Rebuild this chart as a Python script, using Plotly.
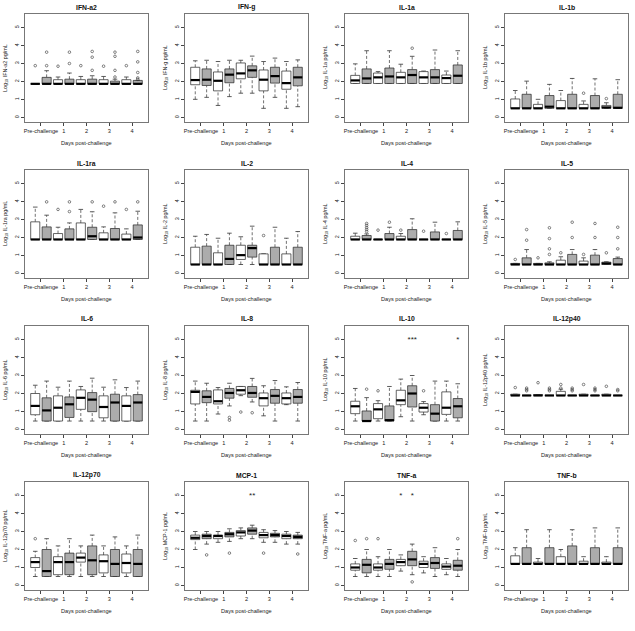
import plotly.graph_objects as go

# ---------------- data (log10 pg/mL), 10 boxes per cytokine ----------------
CYTOKINES = ["IFN-a2", "IFN-g", "IL-1a", "IL-1b",
             "IL-1ra", "IL-2", "IL-4", "IL-5",
             "IL-6", "IL-8", "IL-10", "IL-12p40",
             "IL-12p70", "MCP-1", "TNF-a", "TNF-b"]
TICK_LABELS = ["Pre-challenge", "1", "2", "3", "4"]
GROUP_FILL = ["white", "grey"] * 5          # box order: day x group

LOWER = [
    [1.87] * 10,
    [1.01, 1.12, 0.67, 1.16, 1.35, 1.35, 0.51, 1.12, 0.51, 0.60],
    [1.89] * 10,
    [0.51] * 10,
    [1.89] * 10,
    [0.50] * 10,
    [1.89] * 10,
    [0.50] * 10,
    [0.47] * 10,
    [0.47, 0.47, 0.86, 1.31, 1.88, 1.53, 0.76, 0.47, 1.38, 0.47],
    [0.47, 0.47, 0.47, 0.47, 0.71, 0.47, 0.82, 0.47, 0.47, 0.47],
    [1.89] * 10,
    [0.50] * 10,
    [2.00, 2.30, 2.40, 2.45, 2.60, 2.60, 2.40, 2.40, 2.30, 2.30],
    [0.50, 0.50, 0.50, 0.50, 0.80, 0.60, 0.70, 0.50, 0.60, 0.50],
    [1.20] * 10,
]
Q1 = [
    [1.87] * 10,
    [1.82, 1.78, 1.48, 1.93, 2.15, 2.23, 1.48, 1.91, 1.57, 1.76],
    [1.89] * 10,
    [0.51] * 10,
    [1.89] * 10,
    [0.50, 0.50, 0.50, 0.50, 0.78, 0.91, 0.50, 0.50, 0.50, 0.50],
    [1.89] * 10,
    [0.50] * 10,
    [0.82, 0.47, 0.47, 0.67, 1.12, 0.99, 0.65, 0.47, 0.47, 0.47],
    [1.42, 1.49, 1.42, 1.74, 1.96, 1.79, 1.31, 1.46, 1.42, 1.46],
    [0.88, 0.47, 0.60, 0.47, 1.38, 1.25, 0.97, 0.47, 0.84, 0.65],
    [1.89] * 10,
    [1.00, 0.50, 0.60, 0.60, 1.30, 0.60, 0.70, 0.50, 0.70, 0.50],
    [2.55, 2.60, 2.60, 2.70, 2.75, 2.85, 2.65, 2.70, 2.60, 2.60],
    [0.85, 0.70, 0.85, 0.90, 1.10, 1.10, 1.00, 0.95, 0.90, 0.85],
    [1.20] * 10,
]
MEDIAN = [
    [1.87] * 10,
    [2.08, 2.10, 2.04, 2.38, 2.45, 2.62, 2.10, 2.30, 1.91, 2.23],
    [2.06, 2.17, 2.23, 2.28, 2.23, 2.36, 2.23, 2.23, 2.19, 2.32],
    [0.51, 0.51, 0.51, 0.60, 0.51, 0.51, 0.51, 0.51, 0.56, 0.54],
    [1.89, 1.89, 1.89, 1.89, 1.89, 2.07, 1.89, 1.89, 1.89, 2.00],
    [0.50, 0.50, 0.50, 0.81, 1.02, 1.41, 0.50, 0.50, 0.50, 0.50],
    [1.89] * 10,
    [0.50, 0.50, 0.50, 0.50, 0.50, 0.50, 0.50, 0.50, 0.56, 0.50],
    [1.31, 1.06, 1.21, 1.40, 1.76, 1.66, 1.25, 1.50, 1.31, 1.50],
    [2.09, 1.81, 1.57, 2.03, 2.18, 2.03, 1.74, 1.87, 1.74, 1.81],
    [1.29, 0.47, 1.12, 0.52, 1.62, 2.00, 1.21, 0.88, 1.21, 1.29],
    [1.89] * 10,
    [1.30, 0.80, 1.30, 1.30, 1.55, 1.40, 1.35, 1.20, 1.25, 1.20],
    [2.65, 2.75, 2.75, 2.85, 2.95, 3.05, 2.80, 2.80, 2.75, 2.70],
    [1.00, 1.15, 1.00, 1.20, 1.30, 1.45, 1.20, 1.25, 1.05, 1.10],
    [1.20] * 10,
]
Q3 = [
    [1.87, 2.23, 2.10, 2.13, 2.10, 2.13, 2.10, 2.02, 2.10, 2.06],
    [2.79, 2.70, 2.53, 2.70, 3.03, 2.87, 2.64, 2.79, 2.58, 2.79],
    [2.34, 2.70, 2.47, 2.75, 2.51, 2.66, 2.55, 2.66, 2.36, 2.92],
    [1.03, 1.29, 0.73, 1.22, 0.94, 1.29, 0.73, 1.22, 0.67, 1.29],
    [2.87, 2.59, 2.22, 2.48, 2.81, 2.57, 2.26, 2.50, 2.19, 2.70],
    [1.46, 1.52, 1.15, 1.57, 1.57, 1.57, 1.09, 1.46, 1.09, 1.46],
    [2.07, 2.11, 1.89, 2.22, 2.07, 2.44, 1.89, 2.31, 1.89, 2.39],
    [0.56, 0.87, 0.56, 0.59, 0.74, 1.06, 0.69, 1.02, 0.63, 0.83],
    [2.00, 1.76, 1.87, 1.81, 2.20, 2.05, 1.87, 1.96, 1.87, 1.94],
    [2.18, 2.15, 2.20, 2.28, 2.39, 2.39, 2.03, 2.22, 2.03, 2.22],
    [1.57, 1.03, 1.44, 1.31, 2.18, 2.43, 1.44, 1.38, 2.09, 1.72],
    [1.96, 1.89, 1.94, 1.89, 2.12, 1.89, 1.96, 1.89, 1.96, 1.89],
    [1.55, 2.00, 1.60, 1.80, 1.80, 2.20, 1.70, 2.00, 1.75, 2.00],
    [2.80, 2.85, 2.80, 2.95, 3.05, 3.20, 2.95, 2.90, 2.85, 2.80],
    [1.20, 1.45, 1.20, 1.45, 1.45, 1.90, 1.35, 1.55, 1.20, 1.40],
    [1.65, 2.10, 1.30, 2.10, 1.60, 2.20, 1.35, 2.10, 1.30, 2.10],
]
UPPER = [
    [1.87, 2.60, 2.25, 2.47, 2.28, 2.32, 2.28, 2.13, 2.25, 2.06],
    [3.15, 3.18, 3.11, 3.18, 3.18, 3.41, 3.11, 3.30, 3.11, 3.20],
    [2.98, 3.71, 2.55, 3.71, 2.96, 3.40, 2.58, 3.75, 2.58, 3.71],
    [1.50, 2.02, 1.01, 1.84, 1.50, 2.17, 0.92, 2.15, 0.82, 2.10],
    [3.69, 3.24, 2.57, 2.81, 3.56, 3.43, 2.59, 3.37, 2.48, 3.46],
    [2.07, 2.17, 1.96, 2.24, 2.04, 2.63, 1.09, 2.57, 1.96, 2.33],
    [2.24, 2.20, 1.89, 2.57, 2.22, 3.04, 1.89, 2.85, 1.89, 2.87],
    [0.56, 1.33, 0.56, 0.65, 0.93, 1.33, 0.87, 1.33, 0.65, 0.91],
    [2.46, 2.69, 2.35, 2.69, 2.39, 2.85, 2.35, 2.76, 2.33, 2.69],
    [2.69, 2.57, 2.33, 2.57, 2.39, 2.84, 2.43, 2.72, 2.37, 2.61],
    [2.28, 1.77, 1.60, 2.39, 2.80, 3.00, 1.55, 2.69, 2.69, 2.54],
    [1.96, 1.89, 1.94, 1.89, 2.24, 1.89, 1.96, 1.89, 1.96, 1.89],
    [1.90, 2.60, 2.20, 2.60, 2.20, 2.80, 2.20, 2.70, 2.20, 2.80],
    [3.00, 3.00, 3.00, 3.15, 3.20, 3.35, 3.10, 3.05, 3.00, 2.95],
    [1.50, 2.00, 1.60, 2.00, 1.70, 2.30, 1.60, 2.10, 1.50, 2.00],
    [2.10, 3.10, 1.50, 3.10, 2.00, 3.10, 1.60, 3.20, 1.60, 3.20],
]
OUTLIERS = [
    [[2.88], [2.88, 3.63], [2.85], [3.0, 3.63], [2.88], [2.62, 3.35, 3.67],
     [2.85], [2.25, 2.62, 3.4, 3.63], [2.88], [2.12, 2.2, 2.5, 3.09, 3.67]],
    [[], [], [], [], [], [], [], [], [], []],
    [[], [], [], [], [], [3.85], [], [], [], []],
    [[], [], [], [], [], [], [1.35], [], [1.05], []],
    [[], [3.98], [3.56], [3.44, 3.98], [], [3.98], [3.74], [3.98], [3.56], [3.98]],
    [[], [], [], [], [], [], [2.11], [], [], []],
    [[], [2.33, 2.44, 2.55, 2.67, 2.78], [2.41], [2.85], [2.41], [], [2.35], [], [2.22], []],
    [[0.78], [1.85, 2.44], [0.87], [1.06, 1.37, 1.94, 2.54], [1.15], [2.0, 2.85],
     [1.06], [2.0, 2.78], [1.15], [1.37, 2.0, 2.57]],
    [[], [], [], [], [], [], [], [], [], []],
    [[], [], [], [0.67, 0.52], [0.97], [0.93], [], [], [], []],
    [[], [2.24], [2.15], [], [], [], [2.15], [], [], []],
    [[2.33], [2.15, 2.22, 2.3], [2.6], [2.15, 2.22, 2.3], [2.3, 2.5],
     [2.15, 2.22, 2.3], [2.5], [2.15, 2.22, 2.3], [2.4], [2.15, 2.22]],
    [[2.6], [], [], [], [], [], [], [], [], []],
    [[], [1.7], [], [1.8], [], [], [1.8], [], [], [1.75]],
    [[2.5], [2.6], [2.6], [], [], [0.2], [], [], [], [2.6]],
    [[], [], [], [], [], [], [], [], [], []],
]
# significance marks: (panel index, box position, text)
STARS_PANEL = [10, 10, 13, 14, 14]
STARS_POS = [6, 10, 6, 5, 6]
STARS_TEXT = ["***", "*", "**", "*", "*"]
STAR_LEVEL = 5.0

# ---------------- layout constants ----------------
W, H = 635, 631
LEFT0, COL_STEP, PLOT_W = 25, 160, 123
TOP0, ROW_STEP, PLOT_H = 14, 156, 108
BOX_W, CAP_W = 0.8, 0.4
FONT = "Liberation Sans, Arial, sans-serif"
FILL = {"white": "#ffffff", "grey": "#acacac"}
EDGE = "#222222"

fig = go.Figure()
annotations = []

for i, name in enumerate(CYTOKINES):
    r, c = divmod(i, 4)
    sfx = "" if i == 0 else str(i + 1)
    xa, ya = "x" + sfx, "y" + sfx
    left = LEFT0 + COL_STEP * c
    right = left + PLOT_W
    top = TOP0 + ROW_STEP * r
    bottom = top + PLOT_H

    fig.layout["xaxis" + sfx] = dict(
        domain=[left / W, right / W], anchor=ya, range=[0.1, 10.9],
        tickvals=[1.5, 3.5, 5.5, 7.5, 9.5], ticktext=TICK_LABELS,
        ticks="outside", ticklen=3, tickwidth=0.7, tickcolor="#444",
        showline=True, mirror=True, linecolor="#777", linewidth=1,
        showgrid=False, zeroline=False,
        tickfont=dict(family=FONT, size=5.6, color="#222"), fixedrange=True)
    fig.layout["yaxis" + sfx] = dict(
        domain=[1 - bottom / H, 1 - top / H], anchor=xa, range=[-0.25, 5.75],
        tickvals=[0, 1, 2, 3, 4, 5], ticks="outside", ticklen=3, tickwidth=0.7,
        tickcolor="#444", tickangle=-90,
        showline=True, mirror=True, linecolor="#777", linewidth=1,
        showgrid=False, zeroline=False,
        tickfont=dict(family=FONT, size=5.4, color="#222"), fixedrange=True)

    wx, wy, cx, cy = [], [], [], []
    bx = {"white": [], "grey": []}
    by = {"white": [], "grey": []}
    mx, my, ox, oy = [], [], [], []
    for k in range(10):
        p = k + 1
        lo, q1, md, q3, hi = LOWER[i][k], Q1[i][k], MEDIAN[i][k], Q3[i][k], UPPER[i][k]
        if hi > q3:
            wx += [p, p, None]; wy += [q3, hi, None]
        if lo < q1:
            wx += [p, p, None]; wy += [lo, q1, None]
        cx += [p - CAP_W / 2, p + CAP_W / 2, None, p - CAP_W / 2, p + CAP_W / 2, None]
        cy += [hi, hi, None, lo, lo, None]
        g = GROUP_FILL[k]
        bx[g] += [p - BOX_W / 2, p + BOX_W / 2, p + BOX_W / 2, p - BOX_W / 2, p - BOX_W / 2, None]
        by[g] += [q1, q1, q3, q3, q1, None]
        mx += [p - BOX_W / 2, p + BOX_W / 2, None]
        my += [md, md, None]
        for v in OUTLIERS[i][k]:
            ox.append(p); oy.append(v)

    common = dict(xaxis=xa, yaxis=ya, showlegend=False, hoverinfo="skip")
    fig.add_trace(go.Scatter(x=wx, y=wy, mode="lines",
                             line=dict(color="#333", width=0.7, dash="3px,2px"), **common))
    fig.add_trace(go.Scatter(x=cx, y=cy, mode="lines",
                             line=dict(color="#333", width=0.8), **common))
    for g in ("white", "grey"):
        fig.add_trace(go.Scatter(x=bx[g], y=by[g], mode="lines", fill="toself",
                                 fillcolor=FILL[g], line=dict(color=EDGE, width=0.7),
                                 **common))
    fig.add_trace(go.Scatter(x=mx, y=my, mode="lines",
                             line=dict(color="#000", width=2.2), **common))
    fig.add_trace(go.Scatter(x=ox, y=oy, mode="markers",
                             marker=dict(symbol="circle-open", size=2.6,
                                         color="#333", line=dict(width=0.6)), **common))
    sx = [STARS_POS[j] for j in range(len(STARS_PANEL)) if STARS_PANEL[j] == i]
    st = [STARS_TEXT[j] for j in range(len(STARS_PANEL)) if STARS_PANEL[j] == i]
    if sx:
        fig.add_trace(go.Scatter(x=sx, y=[STAR_LEVEL] * len(sx), mode="text", text=st,
                                 textfont=dict(family=FONT, size=8, color="#222"),
                                 textposition="middle center", **common))

    cxp = (left + right) / 2 / W
    annotations.append(dict(text="<b>%s</b>" % name, x=cxp, y=1 - (top - 7) / H,
                            xref="paper", yref="paper", showarrow=False,
                            font=dict(family=FONT, size=6.8, color="#111"),
                            xanchor="center", yanchor="middle"))
    annotations.append(dict(text="Days post-challenge", x=cxp, y=1 - (bottom + 21) / H,
                            xref="paper", yref="paper", showarrow=False,
                            font=dict(family=FONT, size=5.6, color="#222"),
                            xanchor="center", yanchor="middle"))
    annotations.append(dict(text="Log<sub>10</sub> %s pg/mL" % name, x=(left - 20) / W,
                            y=1 - (top + bottom) / 2 / H, textangle=-90,
                            xref="paper", yref="paper", showarrow=False,
                            font=dict(family=FONT, size=5.4, color="#222"),
                            xanchor="center", yanchor="middle"))

fig.update_layout(width=W, height=H, margin=dict(l=0, r=0, t=0, b=0),
                  paper_bgcolor="white", plot_bgcolor="white",
                  annotations=annotations, showlegend=False)
fig.write_html("out.html", config={"displayModeBar": False},
               post_script="document.body.style.margin='0';"
                           "document.body.style.overflow='hidden';")
